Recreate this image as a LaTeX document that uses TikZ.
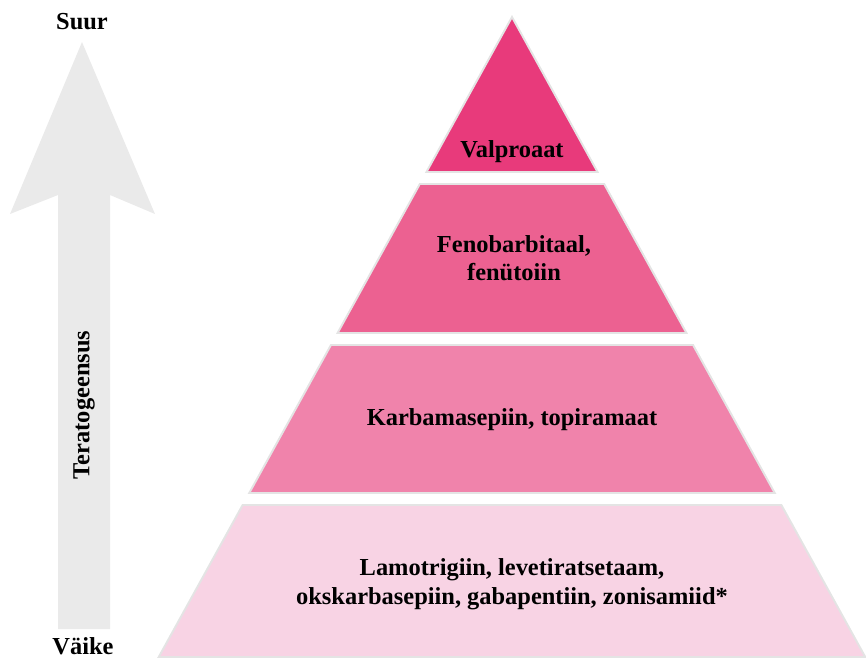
\documentclass[tikz,border=0pt]{standalone}
\usepackage{fontspec}
\setmainfont{Liberation Serif}
\usepackage{tikz}
\usetikzlibrary{calc}

\definecolor{tierA}{RGB}{232,58,123}
\definecolor{tierB}{RGB}{236,97,145}
\definecolor{tierC}{RGB}{240,131,171}
\definecolor{tierD}{RGB}{248,211,228}
\definecolor{arrowgray}{RGB}{234,234,234}
\definecolor{rimgray}{RGB}{228,228,228}

\begin{document}
\begin{tikzpicture}[x=0.2mm,y=-0.2mm,
    tier/.style={draw=rimgray,line width=1.1pt,line join=miter},
    label/.style={font=\fontsize{13.9}{16.2}\selectfont\bfseries,align=center,inner sep=0pt}]
      \useasboundingbox (0,0) rectangle (866,660);

      % big arrow
      \fill[arrowgray] (82,42) -- (155,214) -- (110,195) -- (110,629)
        -- (58,629) -- (58,195) -- (10,214) -- cycle;
      \node[label] (suur) at (82,22) {Suur};
      \node[label] (vaike) at (83,646) {Väike};
      \node[label,rotate=90] (terato) at (84,405) {Teratogeensus};

      % pyramid tiers
      \foreach \ytop/\ybot/\col in {17/172/tierA,184/333/tierB,345/493/tierC,505/657/tierD}
        \draw[tier,fill=\col] ({512-0.552*(\ytop-17)},\ytop) -- ({512+0.552*(\ytop-17)},\ytop)
          -- ({512+0.552*(\ybot-17)},\ybot) -- ({512-0.552*(\ybot-17)},\ybot) -- cycle;

      \node[label] (valpro) at (512,152) {Valproaat};
      \node[label] (fenob) at (514,258) {Fenobarbitaal,\\ fenütoiin};
      \node[label] (karba) at (512,420) {Karbamasepiin, topiramaat};
      \node[label] (lamo) at (512,584) {Lamotrigiin, levetiratsetaam,\\okskarbasepiin, gabapentiin, zonisamiid*};
    \end{tikzpicture}
\end{document}
